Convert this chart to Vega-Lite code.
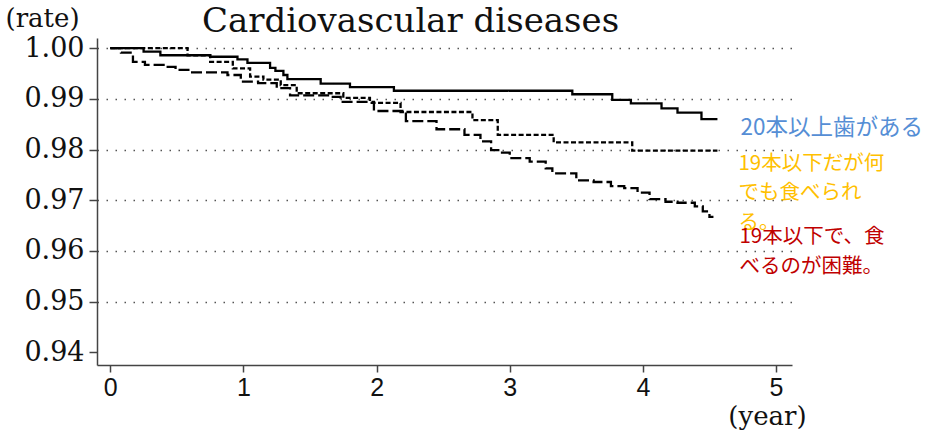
{
  "$schema": "https://vega.github.io/schema/vega-lite/v6.json",
  "width": 695,
  "height": 327,
  "autosize": {"type": "none"},
  "padding": {"left": 97, "top": 38, "right": 142, "bottom": 71},
  "background": "white",
  "config": {"view": {"stroke": null}},
  "title": {"text": "Cardiovascular diseases", "font": "DejaVu Serif", "fontSize": 34, "fontWeight": "normal", "color": "#111", "anchor": "middle", "dx": -34, "offset": -61, "baseline": "alphabetic"},
  "data": {"values": [
    {"group": "20本以上歯がある", "t": 0, "s": 1.0},
    {"group": "20本以上歯がある", "t": 0.25, "s": 0.9993},
    {"group": "20本以上歯がある", "t": 0.376, "s": 0.9986},
    {"group": "20本以上歯がある", "t": 0.75, "s": 0.9983},
    {"group": "20本以上歯がある", "t": 0.955, "s": 0.9978},
    {"group": "20本以上歯がある", "t": 1.03, "s": 0.9971},
    {"group": "20本以上歯がある", "t": 1.2, "s": 0.9961},
    {"group": "20本以上歯がある", "t": 1.24, "s": 0.9955},
    {"group": "20本以上歯がある", "t": 1.3, "s": 0.9947},
    {"group": "20本以上歯がある", "t": 1.33, "s": 0.9939},
    {"group": "20本以上歯がある", "t": 1.58, "s": 0.993},
    {"group": "20本以上歯がある", "t": 1.8, "s": 0.9923},
    {"group": "20本以上歯がある", "t": 2.13, "s": 0.9916},
    {"group": "20本以上歯がある", "t": 3.47, "s": 0.9909},
    {"group": "20本以上歯がある", "t": 3.77, "s": 0.9898},
    {"group": "20本以上歯がある", "t": 3.91, "s": 0.9891},
    {"group": "20本以上歯がある", "t": 4.14, "s": 0.9881},
    {"group": "20本以上歯がある", "t": 4.26, "s": 0.9873},
    {"group": "20本以上歯がある", "t": 4.44, "s": 0.986},
    {"group": "20本以上歯がある", "t": 4.56, "s": 0.986},
    {"group": "19本以下だが何でも食べられる", "t": 0, "s": 1.0},
    {"group": "19本以下だが何でも食べられる", "t": 0.58, "s": 0.9986},
    {"group": "19本以下だが何でも食べられる", "t": 0.75, "s": 0.9973},
    {"group": "19本以下だが何でも食べられる", "t": 0.92, "s": 0.996},
    {"group": "19本以下だが何でも食べられる", "t": 1.05, "s": 0.9944},
    {"group": "19本以下だが何でも食べられる", "t": 1.15, "s": 0.9938},
    {"group": "19本以下だが何でも食べられる", "t": 1.28, "s": 0.9927},
    {"group": "19本以下だが何でも食べられる", "t": 1.4, "s": 0.9911},
    {"group": "19本以下だが何でも食べられる", "t": 1.75, "s": 0.9902},
    {"group": "19本以下だが何でも食べられる", "t": 1.95, "s": 0.9892},
    {"group": "19本以下だが何でも食べられる", "t": 2.18, "s": 0.9874},
    {"group": "19本以下だが何でも食べられる", "t": 2.72, "s": 0.9858},
    {"group": "19本以下だが何でも食べられる", "t": 2.91, "s": 0.9829},
    {"group": "19本以下だが何でも食べられる", "t": 3.33, "s": 0.9814},
    {"group": "19本以下だが何でも食べられる", "t": 3.92, "s": 0.9798},
    {"group": "19本以下だが何でも食べられる", "t": 4.56, "s": 0.9798},
    {"group": "19本以下で、食べるのが困難", "t": 0, "s": 1.0},
    {"group": "19本以下で、食べるのが困難", "t": 0.08, "s": 0.9991},
    {"group": "19本以下で、食べるのが困難", "t": 0.17, "s": 0.9973},
    {"group": "19本以下で、食べるのが困難", "t": 0.26, "s": 0.9967},
    {"group": "19本以下で、食べるのが困難", "t": 0.4, "s": 0.9963},
    {"group": "19本以下で、食べるのが困難", "t": 0.49, "s": 0.9957},
    {"group": "19本以下で、食べるのが困難", "t": 0.6, "s": 0.9952},
    {"group": "19本以下で、食べるのが困難", "t": 0.88, "s": 0.9947},
    {"group": "19本以下で、食べるのが困難", "t": 0.98, "s": 0.9934},
    {"group": "19本以下で、食べるのが困難", "t": 1.11, "s": 0.9931},
    {"group": "19本以下で、食べるのが困難", "t": 1.25, "s": 0.9921},
    {"group": "19本以下で、食べるのが困難", "t": 1.35, "s": 0.9907},
    {"group": "19本以下で、食べるのが困難", "t": 1.65, "s": 0.9904},
    {"group": "19本以下で、食べるのが困難", "t": 1.73, "s": 0.9894},
    {"group": "19本以下で、食べるのが困難", "t": 1.98, "s": 0.9876},
    {"group": "19本以下で、食べるのが困難", "t": 2.22, "s": 0.9856},
    {"group": "19本以下で、食べるのが困難", "t": 2.45, "s": 0.984},
    {"group": "19本以下で、食べるのが困難", "t": 2.66, "s": 0.9829},
    {"group": "19本以下で、食べるのが困難", "t": 2.78, "s": 0.9816},
    {"group": "19本以下で、食べるのが困難", "t": 2.86, "s": 0.9799},
    {"group": "19本以下で、食べるのが困難", "t": 2.93, "s": 0.9794},
    {"group": "19本以下で、食べるのが困難", "t": 3.0, "s": 0.9783},
    {"group": "19本以下で、食べるのが困難", "t": 3.15, "s": 0.9776},
    {"group": "19本以下で、食べるのが困難", "t": 3.27, "s": 0.9763},
    {"group": "19本以下で、食べるのが困難", "t": 3.32, "s": 0.9753},
    {"group": "19本以下で、食べるのが困難", "t": 3.5, "s": 0.9739},
    {"group": "19本以下で、食べるのが困難", "t": 3.63, "s": 0.9736},
    {"group": "19本以下で、食べるのが困難", "t": 3.76, "s": 0.9728},
    {"group": "19本以下で、食べるのが困難", "t": 3.86, "s": 0.9724},
    {"group": "19本以下で、食べるのが困難", "t": 3.96, "s": 0.9715},
    {"group": "19本以下で、食べるのが困難", "t": 4.05, "s": 0.9702},
    {"group": "19本以下で、食べるのが困難", "t": 4.17, "s": 0.9697},
    {"group": "19本以下で、食べるのが困難", "t": 4.26, "s": 0.9695},
    {"group": "19本以下で、食べるのが困難", "t": 4.39, "s": 0.9688},
    {"group": "19本以下で、食べるのが困難", "t": 4.45, "s": 0.9678},
    {"group": "19本以下で、食べるのが困難", "t": 4.5, "s": 0.9667},
    {"group": "19本以下で、食べるのが困難", "t": 4.53, "s": 0.9667}
  ]},
  "layer": [
    {
      "mark": {"type": "line", "interpolate": "step-after", "color": "#000", "strokeWidth": 2.3},
      "encoding": {
        "x": {"field": "t", "type": "quantitative",
          "scale": {"domain": [-0.1, 5.12], "nice": false, "zero": false},
          "axis": {"values": [0, 1, 2, 3, 4, 5], "format": "d", "grid": false,
            "title": "(year)", "titleFont": "DejaVu Serif", "titleFontSize": 26, "titleFontWeight": "normal", "titleColor": "#111",
            "titleAngle": 0, "titleAlign": "center", "titleBaseline": "alphabetic", "titleX": 670, "titleY": 59,
            "labelFont": "Liberation Sans", "labelFontSize": 25, "labelColor": "#111", "labelPadding": 3, "labelFlush": false,
            "tickSize": 7, "tickColor": "#444", "tickWidth": 1.5, "domainColor": "#444", "domainWidth": 1.5}},
        "y": {"field": "s", "type": "quantitative",
          "scale": {"domain": [0.9375, 1.002], "nice": false, "zero": false},
          "axis": {"values": [0.94, 0.95, 0.96, 0.97, 0.98, 0.99, 1.0], "format": ".2f",
            "title": "(rate)", "titleFont": "DejaVu Serif", "titleFontSize": 26, "titleFontWeight": "normal", "titleColor": "#111",
            "titleAngle": 0, "titleAlign": "left", "titleBaseline": "alphabetic", "titleX": -92, "titleY": -12,
            "labelFont": "DejaVu Serif", "labelFontSize": 27, "labelColor": "#111", "labelPadding": 5, "labelFlush": false,
            "tickSize": 8, "tickColor": "#444", "tickWidth": 1.5, "domainColor": "#444", "domainWidth": 1.5,
            "grid": true, "gridDash": [1.5, 7.5], "gridColor": "#555", "gridWidth": 1.3,
            "gridOpacity": {"condition": {"test": "datum.value < 0.945", "value": 0}, "value": 1}}},
        "strokeDash": {"field": "group", "type": "nominal",
          "scale": {"domain": ["20本以上歯がある", "19本以下だが何でも食べられる", "19本以下で、食べるのが困難"], "range": [[1, 0], [5, 2.5], [11, 4]]},
          "legend": null}
      }
    },
    {
      "transform": [
        {"filter": "datum.group === '20本以上歯がある'"},
        {"joinaggregate": [{"op": "max", "field": "t", "as": "tmax"}]},
        {"filter": "datum.t === datum.tmax"}
      ],
      "mark": {"type": "text", "text": "20本以上歯がある", "align": "left", "baseline": "top", "dx": 23, "dy": -2, "font": "Noto Sans CJK JP", "fontSize": 22.5, "color": "#558ED5"},
      "encoding": {"x": {"field": "t", "type": "quantitative"}, "y": {"field": "s", "type": "quantitative"}}
    },
    {
      "transform": [
        {"filter": "datum.group === '19本以下だが何でも食べられる'"},
        {"joinaggregate": [{"op": "max", "field": "t", "as": "tmax"}]},
        {"filter": "datum.t === datum.tmax"}
      ],
      "mark": {"type": "text", "text": ["19本以下だが何", "でも食べられ", "る。"], "lineHeight": 29.5, "align": "left", "baseline": "top", "dx": 21, "dy": 3, "font": "Noto Sans CJK JP", "fontSize": 20.5, "color": "#FFC000"},
      "encoding": {"x": {"field": "t", "type": "quantitative"}, "y": {"field": "s", "type": "quantitative"}}
    },
    {
      "transform": [
        {"filter": "datum.group === '19本以下で、食べるのが困難'"},
        {"joinaggregate": [{"op": "max", "field": "t", "as": "tmax"}]},
        {"filter": "datum.t === datum.tmax"}
      ],
      "mark": {"type": "text", "text": ["19本以下で、食", "べるのが困難。"], "lineHeight": 30, "align": "left", "baseline": "top", "dx": 26, "dy": 10, "font": "Noto Sans CJK JP", "fontSize": 20.5, "color": "#C00000"},
      "encoding": {"x": {"field": "t", "type": "quantitative"}, "y": {"field": "s", "type": "quantitative"}}
    }
  ]
}
